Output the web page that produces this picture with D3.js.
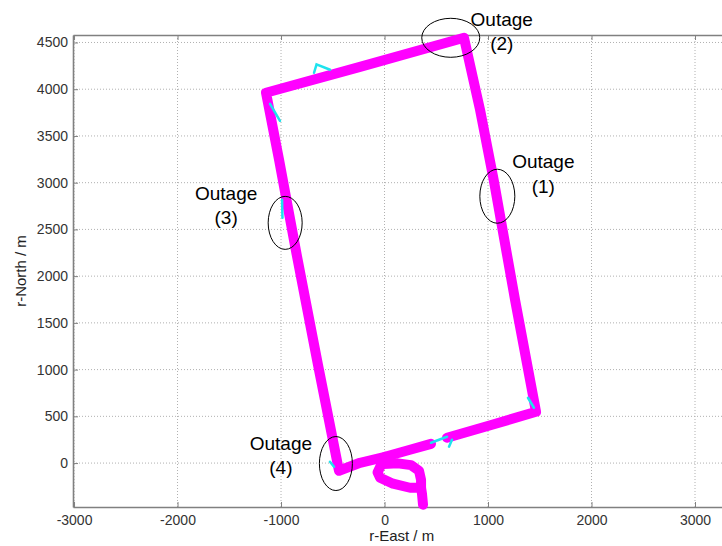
<!DOCTYPE html>
<html>
<head>
<meta charset="utf-8">
<script src="https://cdn.jsdelivr.net/npm/d3@7"></script>
<style>
  body { margin: 0; background: #fff; }
  #chart { width: 722px; height: 546px; }
  text { font-family: "Liberation Sans", Arial, sans-serif; }
</style>
</head>
<body>
<div id="chart"></div>
<script>
"use strict";

// axis ticks
const xTicks = [-3000, -2000, -1000, 0, 1000, 2000, 3000];
const yTicks = [0, 500, 1000, 1500, 2000, 2500, 3000, 3500, 4000, 4500];

// estimated track (magenta), metres east / north
// start at the bottom stub, round the lower part of the loop, then east to the first gap
const trackAEast  = [372, 362, 353, 246, 82, -43, -67, -24, 5, 246, 449];
const trackANorth = [-446, -328, -264, -264, -221, -157, -100, 3, 67, 142, 206];
// top half of the little loop
const trackBEast  = [-10, 130, 256, 333, 353, 353];
const trackBNorth = [-10, -3, -22, -82, -179, -264];
// after the gap: round the big block and back to the start
const trackCEast  = [604, 1039, 1464, 1261, 1058, 923, 768, -237, -1145, -1019, -845, -643, -440, -237, 5];
const trackCNorth = [271, 410, 549, 1747, 3010, 3780, 4550, 4239, 3962, 3245, 2208, 1052, -82, 3, 67];

// reference track (cyan), only the bits that show from under the magenta
const refEast  = [[-681, -657, -526], [-1106, -1010], [-990, -986], [-527, -488], [449, 604], [652, 623], [1386, 1444]];
const refNorth = [[4176, 4266, 4208], [3844, 3662], [2817, 2624], [14, -40], [217, 282], [250, 175], [699, 592]];

// outage marks: ellipse centre in metres, label lines
const outageNames = ["(1)", "(2)", "(3)", "(4)"];
const outageEast  = [1090, 640, -960, -470];
const outageNorth = [2855, 4550, 2570, -5];

document.addEventListener("DOMContentLoaded", function() {
  showGraph();
});

function showGraph() {
  let widtha = 722, heighta = 546;
  document.getElementById("chart").innerHTML =
    `<svg width="` + widtha + `" height="` + heighta + `" id="svg1"></svg>`;

  let svg = d3.select("#svg1");
  let left = 73, right = 730.4, top = 35, bottom = 507;

  let x = d3.scaleLinear().domain([-3010, 3342]).range([left, right]);
  let y = d3.scaleLinear().domain([-470, 4580]).range([bottom, top]);

  // dotted grid
  let grid = svg.append("g").attr("stroke", "#b0b0b0").attr("stroke-dasharray", "1,2");
  grid.selectAll(".gx").data(xTicks).enter().append("line")
    .attr("x1", d => x(d)).attr("x2", d => x(d))
    .attr("y1", top).attr("y2", bottom);
  grid.selectAll(".gy").data(yTicks).enter().append("line")
    .attr("x1", left).attr("x2", right)
    .attr("y1", d => y(d)).attr("y2", d => y(d));

  // plain "-3000" style labels, no thousands comma
  let plain = d => String(d);

  // axes, ticks pointing in like matlab
  let gx = svg.append("g")
    .attr("transform", `translate(0,${bottom})`)
    .call(d3.axisBottom(x).tickValues(xTicks).tickFormat(plain).tickSizeInner(-5).tickSizeOuter(0).tickPadding(8));
  let gt = svg.append("g")
    .attr("transform", `translate(0,${top})`)
    .call(d3.axisTop(x).tickValues(xTicks).tickSizeInner(-5).tickSizeOuter(0).tickFormat(""));
  let gy = svg.append("g")
    .attr("transform", `translate(${left},0)`)
    .call(d3.axisLeft(y).tickValues(yTicks).tickFormat(plain).tickSizeInner(-5).tickSizeOuter(0).tickPadding(5));

  [gx, gt, gy].forEach(g => {
    g.select(".domain").attr("stroke", "#808080").attr("stroke-width", 1.6);
    g.selectAll(".tick line").attr("stroke", "#808080");
    g.selectAll(".tick text").attr("fill", "#333").style("font-size", "14px")
      .style("font-family", "Liberation Sans, Arial, sans-serif");
  });

  let line = d3.line().x(d => x(d[0])).y(d => y(d[1]));

  // magenta estimated track
  let tracks = [
    d3.zip(trackAEast, trackANorth),
    d3.zip(trackBEast, trackBNorth),
    d3.zip(trackCEast, trackCNorth)
  ];
  svg.selectAll(".track").data(tracks).enter().append("path")
    .attr("class", "track")
    .attr("d", line)
    .attr("fill", "none")
    .attr("stroke", "#ff00ff")
    .attr("stroke-width", 10)
    .attr("stroke-linejoin", "round")
    .attr("stroke-linecap", "round");

  // cyan reference bits
  let refs = refEast.map((e, i) => d3.zip(e, refNorth[i]));
  svg.selectAll(".ref").data(refs).enter().append("path")
    .attr("class", "ref")
    .attr("d", line)
    .attr("fill", "none")
    .attr("stroke", "#1ee3ee")
    .attr("stroke-width", 2.5)
    .attr("stroke-linecap", "round");

  // outage ellipses + labels
  let rx = [17.5, 29, 17, 16.5], ry = [27, 19.5, 26.5, 27];
  let labelDx = [46, 51, -59, -55], labelDy = [-28, -12, -23, -14];
  outageNames.forEach((name, i) => {
    let cx = x(outageEast[i]), cy = y(outageNorth[i]);
    svg.append("ellipse")
      .attr("cx", cx).attr("cy", cy)
      .attr("rx", rx[i]).attr("ry", ry[i])
      .attr("fill", "none").attr("stroke", "#000").attr("stroke-width", 1);
    let t = svg.append("text")
      .attr("x", cx + labelDx[i]).attr("y", cy + labelDy[i])
      .attr("text-anchor", "middle")
      .style("font-size", "19px")
      .attr("fill", "#000");
    t.append("tspan").attr("x", cx + labelDx[i]).text("Outage");
    t.append("tspan").attr("x", cx + labelDx[i]).attr("dy", 24.5).text(name);
  });

  // axis titles
  svg.append("text")
    .attr("x", (left + right) / 2).attr("y", 541)
    .attr("text-anchor", "middle")
    .style("font-size", "15px").attr("fill", "#222")
    .text("r-East / m");

  svg.append("text")
    .attr("transform", `translate(26,${(top + bottom) / 2}) rotate(-90)`)
    .attr("text-anchor", "middle")
    .style("font-size", "15px").attr("fill", "#222")
    .text("r-North / m");
}
</script>
</body>
</html>
